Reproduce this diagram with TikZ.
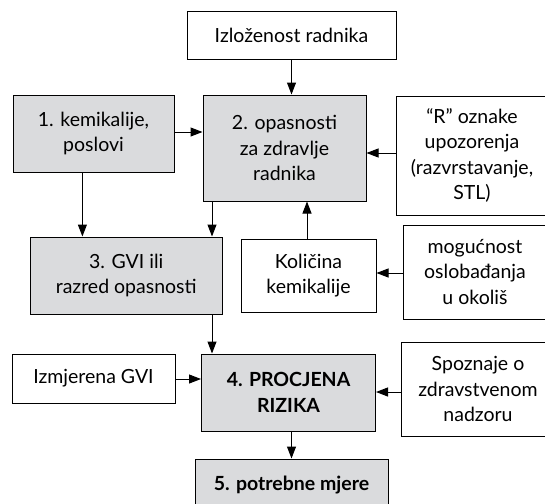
\documentclass[tikz,border=0pt]{standalone}
\usepackage{fontspec}
\setmainfont{Lato}
\usetikzlibrary{arrows.meta}
\definecolor{boxgray}{RGB}{218,219,221}
\begin{document}
\begin{tikzpicture}[x=1pt,y=-1pt,
  box/.style={draw=black, line width=1pt, inner sep=0pt, align=center,
    font=\fontsize{19.5}{25.5}\selectfont},
  gbox/.style={box, fill=boxgray},
  wbox/.style={box, fill=white},
  bold/.style={font=\fontsize{19.5}{25.5}\selectfont\bfseries},
  arr/.style={-{Triangle[length=12pt,width=9pt]}, line width=1pt}]
\useasboundingbox (0,0) rectangle (545,503);
\clip (0,0) rectangle (545,503);
\node[wbox, minimum width=209pt, minimum height=47pt] (izl) at (291.5,35.5) {Izloženost radnika};
\node[gbox, minimum width=161pt, minimum height=77pt] (b1) at (93.5,133.5) {1. kemikalije,\\poslovi};
\node[gbox, minimum width=163pt, minimum height=106pt] (b2) at (284.5,148) {2. opasnosti\\za zdravlje\\radnika};
\node[wbox, minimum width=152pt, minimum height=119pt] (rb) at (472,155.5) {“R” oznake\\upozorenja\\(razvrstavanje,\\STL)};
\node[gbox, minimum width=191.5pt, minimum height=77pt] (b3) at (126.25,275.5) {3. GVI ili\\razred opasnosti};
\node[wbox, minimum width=135pt, minimum height=73pt] (kol) at (308.5,275.5) {Količina\\kemikalije};
\node[wbox, minimum width=144pt, minimum height=94pt] (mog) at (475,272) {mogućnost\\oslobađanja\\u okoliš};
\node[gbox, bold, minimum width=174pt, minimum height=77pt] (b4) at (288.5,392.5) {4. PROCJENA\\RIZIKA};
\node[wbox, minimum width=163pt, minimum height=49pt] (izm) at (93.5,378.5) {Izmjerena GVI};
\node[wbox, minimum width=153pt, minimum height=94pt] (spoz) at (478,389) {Spoznaje o\\zdravstvenom\\nadzoru};
\node[gbox, bold, minimum width=193pt, minimum height=52pt] (b5) at (291.5,485) {5. potrebne mjere};
\draw[arr] (izl.south) -- (b2.north -| izl.south);
\draw[arr] (b1.east |- 0,132) -- (b2.west |- 0,132);
\draw[arr] (rb.west |- 0,153) -- (b2.east |- 0,153);
\draw[arr] (b1.south -| 82.4,0) -- (b3.north -| 82.4,0);
\draw[arr] (b2.south -| 212,0) -- (b3.north -| 212,0);
\draw[arr] (kol.north -| 307,0) -- (b2.south -| 307,0);
\draw[arr] (mog.west |- 0,273) -- (kol.east |- 0,273);
\draw[arr] (b3.south -| 212,0) -- (b4.north -| 212,0);
\draw[arr] (izm.east |- 0,379) -- (b4.west |- 0,379);
\draw[arr] (spoz.west |- 0,392) -- (b4.east |- 0,392);
\draw[arr] (b4.south -| b5.north) -- (b5.north);
\end{tikzpicture}
\end{document}
